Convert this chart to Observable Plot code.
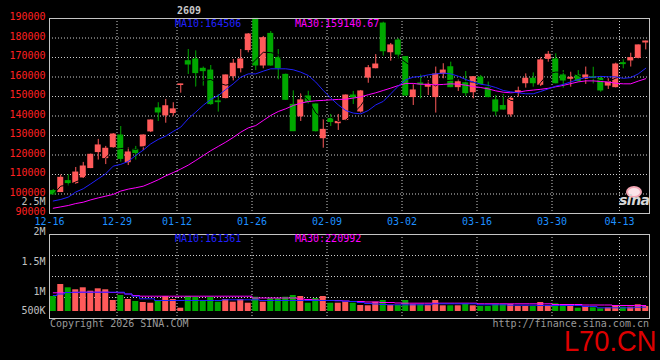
<!DOCTYPE html>
<html><head><meta charset="utf-8">
<script src="https://cdn.jsdelivr.net/npm/d3@7"></script>
<script src="https://cdn.jsdelivr.net/npm/@observablehq/plot@0.6"></script>
<style>
html,body{margin:0;padding:0;background:#000;}
#wrap{position:relative;width:660px;height:360px;background:#000;overflow:hidden;font-family:"DejaVu Sans Mono",monospace;}
#wrap svg{position:absolute;left:0;top:0;}
.t{position:absolute;font-size:10px;line-height:10px;white-space:pre;font-family:"DejaVu Sans Mono",monospace;}
</style></head><body>
<div id="wrap"></div>
<script>
// ---- data ----
const open = [101500,101000,106600,105600,108500,113300,121500,118400,124000,130000,
116300,122700,124400,132100,143900,140300,141500,155900,168100,169000,
164200,163300,147500,149200,160400,164500,173800,189800,165900,182100,
169700,161100,145700,139800,150000,145900,128600,138600,136300,138000,
150500,142300,159700,164500,187400,172700,178700,170200,149700,156700,
155000,149700,161600,165000,154800,156800,152200,159700,154300,148000,
145100,140800,152200,156800,159100,156000,169300,169000,160800,159100,
160800,159100,159900,159100,155600,154800,167100,168500,169800,177700];
const high = [102300,109700,109800,113600,116200,120500,128000,124400,131000,134600,
123700,124400,130300,138000,146800,148500,146800,156300,174100,173400,
165100,165900,151000,161000,169000,174100,182300,190000,180800,183300,
174100,161500,152900,151400,152700,146200,138200,140800,140800,150800,
152600,153100,165900,171500,188100,177200,179600,170500,156000,161300,
158200,165100,166800,167600,158700,162800,160200,160800,157400,150500,
151000,149700,154800,161600,162100,169800,173100,171900,163300,162800,
163300,165100,165000,160300,159100,167100,168800,172200,176400,178400];
const low = [99300,100800,104000,105000,108000,113000,117400,115100,123500,116300,
114600,117400,122300,131500,137200,136300,139400,151700,161300,154800,
155300,145500,142000,148800,158000,162100,172400,163300,164200,165500,
158600,148000,132000,137200,146200,131800,123500,134600,132600,137500,
145900,141500,156800,164200,170700,168100,169300,150000,145400,148800,
150500,141500,159100,154500,152600,150000,148800,155800,149300,139900,
143000,139400,149700,154300,154800,155100,167600,156500,154300,154800,
157400,156200,156500,152200,153600,154400,164200,165100,169300,173900];
const close = [99800,108300,105600,111000,114100,120100,124900,123200,130500,118000,
121300,121000,130000,137700,141800,145000,143400,156200,166400,162000,
163000,146100,147100,160800,166800,169000,181800,165900,179900,165900,
164500,148300,132200,148000,147100,132200,132900,136900,137000,150500,
149500,152600,164500,166400,173200,176200,171500,150500,153100,156200,
156000,161300,163300,154800,157300,151700,159900,156200,149700,142300,
143300,148800,152700,159100,156800,168500,171400,156800,158200,159600,
157900,160800,159400,153100,157400,166400,166600,169700,176200,178200];
const ma10 = [96400,97200,98400,101000,102700,105200,107800,110400,114300,115200,
116700,119800,122500,125700,128000,129700,132100,134300,138600,142000,
145500,148500,150500,153600,156500,159900,161600,161600,163000,164200,
164200,164200,163700,162500,160800,157400,153100,149200,145700,142800,
141500,141100,142800,145700,147500,151400,155300,158600,159900,160300,
161100,161600,162000,161600,160400,158700,157400,156300,155700,154600,
153100,152400,151900,151400,151400,152600,153900,155300,156200,157500,
158700,159800,159900,160300,160100,160100,159300,159700,161600,164506];
const ma30 = [92700,93400,94100,95100,95800,97000,98000,98900,99800,101500,
102500,103200,104000,105600,107300,109300,111000,112800,114800,117200,
119700,122200,124400,126600,129000,131700,133900,135100,137700,140300,
142300,143700,145400,146600,147400,147800,148000,148300,148500,148600,
149200,149800,150900,151900,153100,154300,155600,156700,156700,156300,
156200,156000,156200,156500,156300,155800,155100,154600,153900,152900,
152200,151900,152200,152900,153300,153700,154200,155000,155700,156600,
157500,158000,158000,157700,157400,156800,156500,156500,157900,159141];
const volume = [523800,809500,731000,683300,731000,650000,707000,683300,428600,547600,
452400,404800,381000,364300,428600,523800,452400,245200,523800,507100,
428600,507100,388100,452400,388100,452400,364300,507100,388100,469000,
469000,507100,547600,523800,364300,476200,523800,364300,364300,388100,
364300,309500,302400,388100,428600,309500,309500,428600,333300,326200,
309500,428600,302400,302400,302400,333300,302400,285700,285700,333300,
333300,333300,285700,285700,285700,381000,285700,350000,285700,285700,
245200,269000,254800,231000,254800,285700,269000,269000,326200,285700];
const volMa10 = [547600,583300,619100,626200,626200,626200,626200,626200,626200,626200,
583300,531000,469000,469000,428600,428600,428600,428600,428600,428600,
428600,428600,428600,445200,445200,445200,445200,445200,428600,428600,
428600,428600,428600,428600,428600,428600,428600,428600,421400,411900,
404800,381000,357100,345200,333300,326200,326200,326200,326200,326200,
326200,350000,350000,350000,350000,350000,350000,326200,326200,326200,
326200,316700,316700,316700,316700,309500,309500,309500,309500,309500,
309500,285700,285700,254800,254800,254800,254800,254800,269000,269000];
const volMa30 = [611900,611900,619100,619100,626200,626200,626200,626200,619100,611900,
583300,547600,531000,531000,531000,531000,531000,531000,531000,531000,
531000,531000,531000,531000,531000,531000,531000,488100,488100,488100,
488100,488100,488100,464300,452400,440500,428600,428600,428600,416700,
404800,404800,392900,392900,381000,381000,369100,364300,364300,364300,
364300,364300,364300,364300,364300,364300,364300,350000,350000,350000,
350000,350000,350000,350000,350000,350000,350000,333300,333300,333300,
333300,321400,321400,321400,321400,309500,309500,309500,309500,309500];
const dateTicks = [0, 9, 17, 27, 37, 47, 57, 67, 76];
const dateLabels = ["12-16","12-29","01-12","01-26","02-09","03-02","03-16","03-30","04-13"];
const priceTicks = [90000,100000,110000,120000,130000,140000,150000,160000,170000,180000,190000];
const priceGrid = [100000,110000,120000,130000,140000,150000,160000,170000,180000];
const volTicks = [2500000, 2000000, 1500000, 1000000, 500000];
const volTickLabels = ["2.5M","2M","1.5M","1M","500K"];
const volGrid = [500000, 1000000, 1500000];

// ---- build ----
const n = open.length;
const idx = d3.range(n);
const rows = idx.map(i => ({i, open: open[i], high: high[i], low: low[i], close: close[i],
  vol: volume[i], ma10: ma10[i], ma30: ma30[i], vma10: volMa10[i], vma30: volMa30[i]}));
const ups = rows.filter(d => d.close >= d.open);
const downs = rows.filter(d => d.close < d.open);
const UP = "#ff5a5a", DOWN = "#00a800", BLUE = "#2020ff", MAG = "#ff00ff";
const GRID = {stroke: "#cfcfcf", strokeOpacity: 1, strokeDasharray: "1,2"};
const labelMap = new Map(dateTicks.map((t, k) => [t, dateLabels[k]]));
const xScale = {type: "band", domain: idx, paddingInner: 0.2, paddingOuter: 0.1, align: 0.5, axis: null};
const baseStyle = {background: "transparent", fontFamily: "DejaVu Sans Mono, monospace", fontSize: "10px", overflow: "visible"};

const price = Plot.plot({
  width: 660, height: 360, marginLeft: 49, marginRight: 11, marginTop: 18, marginBottom: 147,
  style: baseStyle,
  x: xScale,
  y: {domain: [90000, 190000], axis: null},
  marks: [
    Plot.gridY(priceGrid, GRID),
    Plot.gridX(dateTicks, {...GRID, dx: -3.75}),
    Plot.ruleX(ups, {x: "i", y1: "low", y2: "high", stroke: UP}),
    Plot.ruleX(downs, {x: "i", y1: "low", y2: "high", stroke: DOWN}),
    Plot.barY(ups, {x: "i", y1: "open", y2: "close", fill: UP, insetTop: -0.5, insetBottom: -0.5}),
    Plot.barY(downs, {x: "i", y1: "open", y2: "close", fill: DOWN, insetTop: -0.5, insetBottom: -0.5}),
    Plot.lineY(rows, Plot.windowY({k: 5, anchor: "end"}, {x: "i", y: "close", stroke: "#000", strokeWidth: 1})),
    Plot.lineY(rows, {x: "i", y: "ma30", stroke: MAG, strokeWidth: 1}),
    Plot.lineY(rows, {x: "i", y: "ma10", stroke: BLUE, strokeWidth: 1}),
    Plot.frame({stroke: "#c4c4c4"}),
    Plot.axisY(priceTicks, {tickSize: 0, tickPadding: 4, color: "#ff2020", dy: -1.5, tickFormat: d => String(d), label: null, fontSize: 10}),
    Plot.axisX(dateTicks, {tickSize: 0, tickPadding: 4, color: "#1e90ff", dx: -3.75, tickFormat: t => labelMap.get(t), label: null, fontSize: 10})
  ]
});

const volDy = [-12, -3, 6, 15, 13];
const volume_ = Plot.plot({
  width: 660, height: 360, marginLeft: 49, marginRight: 11, marginTop: 234, marginBottom: 42,
  style: baseStyle,
  x: xScale,
  y: {domain: [0, 2000000], axis: null},
  marks: [
    Plot.gridY(volGrid, GRID),
    Plot.gridX(dateTicks.slice(1), {...GRID, dx: -3.75}),
    Plot.barY(ups, {x: "i", y: "vol", fill: UP, insetBottom: 7}),
    Plot.barY(downs, {x: "i", y: "vol", fill: DOWN, insetBottom: 7}),
    Plot.lineY(rows, {x: "i", y: "vma30", stroke: MAG, strokeWidth: 1, curve: "step"}),
    Plot.lineY(rows, {x: "i", y: "vma10", stroke: BLUE, strokeWidth: 1, curve: "step"}),
    Plot.frame({stroke: "#c4c4c4"}),
    ...volTicks.map((v, k) => Plot.text([v], {y: d => d, text: () => volTickLabels[k], frameAnchor: "left",
      textAnchor: "end", dx: -4, dy: volDy[k], fill: "#c0c0c0", fontSize: 10}))
  ]
});

const wrap = document.getElementById("wrap");
wrap.appendChild(volume_);
wrap.appendChild(price);

function addText(txt, css) {
  const d = document.createElement("div");
  d.className = "t";
  d.textContent = txt;
  Object.assign(d.style, css);
  wrap.appendChild(d);
  return d;
}
addText("2609", {left: "177px", top: "5.5px", color: "#c8c8c8", fontWeight: "bold"});
addText("MA10:164506", {left: "175px", top: "19px", color: BLUE});
addText("MA30:159140.67", {left: "295px", top: "19px", color: MAG});
addText("MA10:161361", {left: "175px", top: "234px", color: BLUE});
addText("MA30:220992", {left: "295px", top: "234px", color: MAG});
addText("Copyright 2026 SINA.COM", {left: "50px", top: "319px", color: "#9a9a9a"});
addText("http://finance.sina.com.cn", {right: "11px", top: "319px", color: "#9a9a9a"});
addText("L70.CN", {right: "4px", top: "330px", color: "#dd0000", fontSize: "29px", lineHeight: "22px",
  fontFamily: "Liberation Sans, Arial, sans-serif", transform: "scaleX(0.94)", transformOrigin: "right top"});
// sina logo
const eye = document.createElement("div");
Object.assign(eye.style, {position: "absolute", left: "626px", top: "186px", width: "12px", height: "8px",
  border: "2px solid #f3a6b4", borderRadius: "50%", background: "#fbe3e8"});
wrap.appendChild(eye);
addText("sina", {left: "619px", top: "193px", color: "#d8d8d8", fontSize: "14px", lineHeight: "14px",
  fontFamily: "DejaVu Sans, sans-serif", fontStyle: "italic", fontWeight: "bold", letterSpacing: "-0.5px"});
</script>
</body></html>
